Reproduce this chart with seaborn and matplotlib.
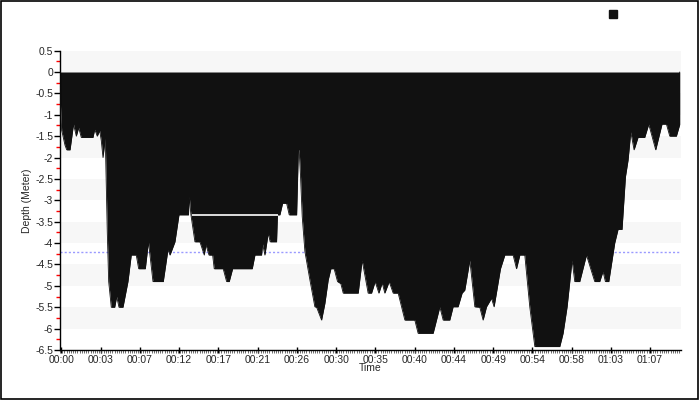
import matplotlib
matplotlib.use("Agg")
import matplotlib.pyplot as plt
import seaborn as sns
import pandas as pd
import numpy as np
from matplotlib.patches import Rectangle, Patch
from matplotlib.ticker import MultipleLocator, FixedLocator

# dive profile, minutes from start / depth in metres
time_min = [0.0, 0.06, 0.19, 0.57, 0.77, 1.15, 1.55, 1.87, 2.14, 2.44, 3.78, 3.98,
            4.27, 4.55, 4.73, 4.93, 5.19, 5.42, 5.58, 5.88, 6.27, 6.50, 6.76, 7.22,
            7.79, 8.17, 8.74, 9.02, 9.78, 10.14, 10.66, 11.84, 12.38, 12.61, 13.18,
            13.64, 14.73, 14.82, 15.01, 15.47, 16.04, 16.54, 16.73, 17.08, 17.50,
            17.68, 18.71, 19.10, 19.40, 19.79, 22.04, 22.35, 23.11, 23.23, 23.49,
            23.87, 24.10, 24.83, 24.93, 25.21, 25.52, 25.98, 26.28, 27.13, 27.33,
            27.42, 27.58, 27.77, 28.08, 28.65, 29.22, 29.42, 29.99, 30.37, 30.75,
            31.06, 31.43, 31.82, 32.20, 32.47, 34.19, 34.64, 35.33, 35.72, 36.13,
            36.56, 36.94, 37.24, 37.74, 38.20, 38.77, 39.54, 40.68, 41.06, 42.78,
            43.55, 43.93, 44.69, 45.07, 45.64, 46.10, 46.41, 46.99, 47.56, 48.13,
            48.51, 48.90, 49.47, 49.77, 50.50, 51.00, 51.95, 52.34, 52.72, 53.29,
            53.86, 54.44, 57.30, 57.68, 58.14, 58.71, 59.02, 59.59, 60.36, 61.31,
            61.88, 62.26, 62.53, 62.92, 63.60, 63.98, 64.44, 64.83, 65.13, 65.44,
            65.82, 66.27, 67.04, 67.50, 68.30, 69.02, 69.53, 69.91, 70.67, 71.05,
            71.05]
depth_m = [0.0, -0.8, -1.36, -1.71, -1.82, -1.82, -1.22, -1.5, -1.3, -1.53, -1.53, -1.34,
           -1.5, -1.37, -1.6, -2.0, -1.55, -3.74, -4.9, -5.5, -5.5, -5.25, -5.5, -5.5,
           -4.9, -4.28, -4.28, -4.6, -4.6, -3.97, -4.9, -4.9, -4.15, -4.28, -3.97,
           -3.34, -3.34, -2.91, -3.34, -3.97, -3.97, -4.28, -4.04, -4.28, -4.28,
           -4.6, -4.6, -4.9, -4.9, -4.6, -4.6, -4.28, -4.28, -4.02, -4.28,
           -3.77, -3.97, -3.97, -3.34, -3.34, -3.07, -3.07, -3.34, -3.34, -1.82,
           -1.82, -2.45, -3.38, -4.2, -4.86, -5.49, -5.5, -5.8, -5.41, -4.86,
           -4.6, -4.6, -4.9, -4.95, -5.17, -5.17, -4.4, -5.17, -5.17, -4.9,
           -5.17, -4.93, -5.17, -4.9, -5.17, -5.17, -5.8, -5.8, -6.11, -6.11,
           -5.49, -5.8, -5.8, -5.49, -5.49, -5.17, -5.1, -4.4, -5.49, -5.5,
           -5.8, -5.49, -5.29, -5.49, -4.6, -4.28, -4.28, -4.6, -4.28, -4.28,
           -5.49, -6.42, -6.42, -6.11, -5.49, -4.4, -4.9, -4.9, -4.28, -4.9,
           -4.9, -4.66, -4.9, -4.9, -4.0, -3.68, -3.68, -2.45, -2.06, -1.4,
           -1.82, -1.53, -1.53, -1.22, -1.82, -1.22, -1.22, -1.5, -1.5, -1.23,
           0.0]

tick_labels = ["00:00", "00:03", "00:07", "00:12", "00:17", "00:21", "00:26", "00:30",
               "00:35", "00:40", "00:44", "00:49", "00:54", "00:58", "01:03", "01:07"]
tick_step = 4.5
avg_depth = -4.2
gap_depth = -3.34
gap_start, gap_end = 15.1, 25.0

sns.set_style("white")
plt.rcParams["font.family"] = ["Liberation Sans", "DejaVu Sans"]

df = pd.DataFrame({"Time": time_min, "Depth": depth_m})

fig = plt.figure(figsize=(7, 4), dpi=100)
ax = fig.add_axes([60 / 700, 50 / 400, 621 / 700, 299.4 / 400])

# alternating background bands
for k in range(7):
    ax.axhspan(0.5 - k, 0 - k, color="#f7f7f7", lw=0, zorder=0)

ax.axhline(avg_depth, color="#9a9aff", ls=(0, (1.5, 1.5)), lw=1, zorder=1)

ax.fill_between(df["Time"], df["Depth"], 0, color="#111111", lw=0, zorder=2)
sns.lineplot(data=df, x="Time", y="Depth", color="#111111", lw=0.6, ax=ax,
             estimator=None, sort=False, zorder=3)
ax.hlines(gap_depth, gap_start, gap_end, color="white", lw=1.2, zorder=4)

ax.set_xlim(0, 71.2)
ax.set_ylim(-6.5, 0.5)

ax.set_xticks([0.16 + i * tick_step for i in range(len(tick_labels))])
ax.set_xticklabels(tick_labels)
ax.xaxis.set_minor_locator(MultipleLocator(0.25))

yt = np.arange(-6.5, 0.51, 0.5)
ax.set_yticks(yt)
ax.set_yticklabels([f"{v:g}" for v in yt])
ax.yaxis.set_minor_locator(FixedLocator(np.arange(-6.25, 0.5, 0.5)))

for s in ["top", "right"]:
    ax.spines[s].set_visible(False)
for s in ["left", "bottom"]:
    ax.spines[s].set_color("black")
    ax.spines[s].set_linewidth(1)

ax.tick_params(axis="y", which="major", left=True, direction="out", length=4, width=1,
               color="black", labelsize=7.5, pad=1)
ax.tick_params(axis="y", which="minor", left=True, direction="out", length=3, width=1,
               color="red")
ax.tick_params(axis="x", which="major", bottom=True, direction="inout", length=5, width=1,
               color="black", labelsize=7.5, pad=1)
ax.tick_params(axis="x", which="minor", bottom=True, direction="out", length=2, width=0.6,
               color="#555555")

ax.set_xlabel("Time", fontsize=7.5)
ax.set_ylabel("Depth (Meter)", fontsize=7.5)
ax.xaxis.set_label_coords(0.5, -0.045)
ax.yaxis.set_label_coords(-0.045, 0.5)

fig.legend(handles=[Patch(facecolor="#111111", edgecolor="#111111")], labels=[""],
           loc="center", bbox_to_anchor=(613 / 700, 1 - 15 / 400), frameon=False,
           handlelength=0.55, handleheight=0.55, handletextpad=0, borderpad=0)

fig.add_artist(Rectangle((0.001, 0.003), 0.996, 0.994, transform=fig.transFigure,
                         fill=False, ec="black", lw=1.2))

fig.savefig("out.png", dpi=100)
